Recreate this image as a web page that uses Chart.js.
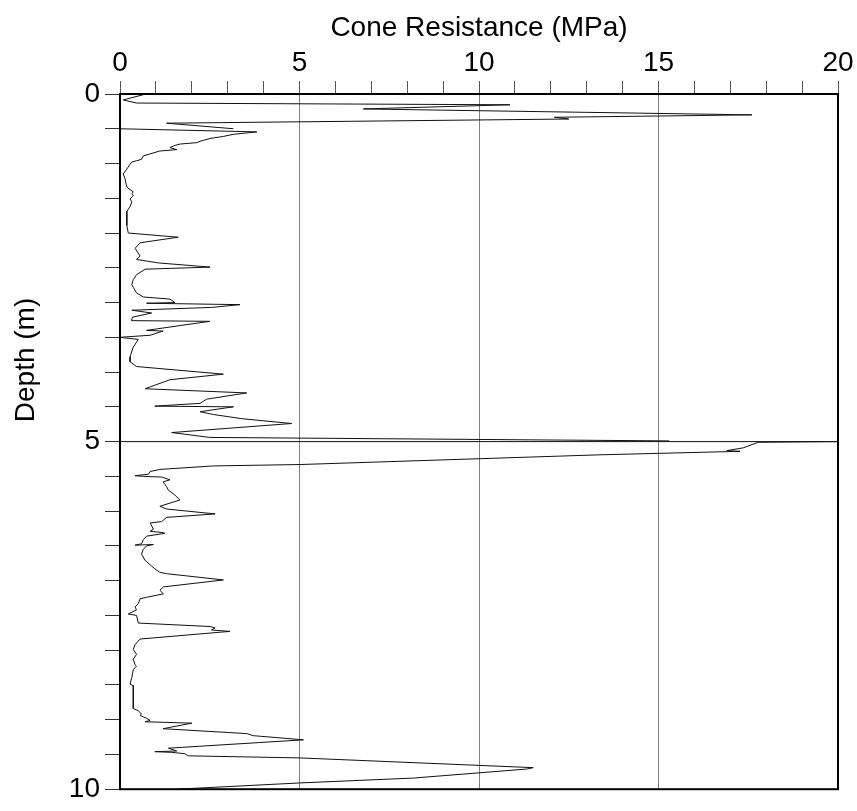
<!DOCTYPE html>
<html><head><meta charset="utf-8">
<script src="https://cdn.jsdelivr.net/npm/chart.js@4.4.1/dist/chart.umd.min.js"></script>
<style>html,body{margin:0;padding:0;background:#fff}canvas{display:block}</style>
</head><body>
<canvas id="c" width="857" height="811"></canvas>
<script>
// ---- data (depth in m, cone resistance in MPa) ----
const run1Depth = [0.01,0.085,0.13,0.155,0.215,0.30,0.335,0.36,0.42,0.50];
const run1Qc    = [0.65,0.09,0.46,10.86,6.78,17.6,12.1,12.5,1.3,3.16];

const run2Depth = [0.50,0.545,0.58,0.61,0.64,0.68,0.70,0.72,0.74,0.77,0.80,0.82,0.89,0.94,0.96,0.98,1.01,1.08,1.15,1.22,
  1.34,1.41,1.43,1.46,1.51,1.55,1.62,1.69,1.79,1.89,2.00,2.06,2.14,2.22,2.33,2.38,2.43,2.49,2.52,2.60,
  2.67,2.74,2.78,2.86,2.92,2.95,3.00,3.01,3.03,3.07,3.11,3.15,3.21,3.26,3.27,3.40,3.41,3.47,3.50,3.53,
  3.64,3.78,3.85,3.92,4.03,4.11,4.24,4.30,4.39,4.45,4.49,4.50,4.57,4.61,4.67,4.74,4.87,4.94,4.99];
const run2Qc    = [0.0,3.81,3.16,2.88,2.51,2.23,2.14,1.67,1.53,1.39,1.58,1.11,0.65,0.60,0.46,0.33,0.28,0.19,0.09,0.14,
  0.19,0.37,0.33,0.37,0.28,0.33,0.28,0.19,0.19,0.19,0.23,1.62,0.56,0.42,0.56,0.46,1.07,2.51,0.70,0.46,
  0.37,0.33,0.37,0.46,0.65,1.39,1.53,0.74,3.34,2.55,0.33,0.88,0.35,0.32,2.50,0.74,1.20,0.84,0.0,0.51,
  0.37,0.28,0.28,0.46,2.88,1.39,0.70,3.53,2.41,2.23,0.97,3.16,2.23,2.60,3.39,4.78,1.44,2.50,15.3];

const run3Depth = [5.00,5.00,5.01,5.09,5.13,5.14,5.19,5.33,5.35,5.40,5.43,5.47,5.49,5.50,5.51,5.55,5.58,5.65,5.70,5.77,
  5.84,5.93,5.97,6.04,6.09,6.15,6.17,6.26,6.29,6.31,6.32,6.36,6.41,6.47,6.49,6.48,6.50,6.55,6.62,6.71,
  6.79,6.83,6.88,6.90,6.99,7.09,7.14,7.19,7.24,7.26,7.33,7.38,7.42,7.48,7.50,7.61,7.66,7.68,7.71,7.73,
  7.84,7.92,7.99,8.06,8.13,8.21,8.23,8.28,8.39,8.49,8.51,8.61,8.70,8.84,8.87,8.92,8.94,8.98,9.01,9.03,
  9.05,9.13,9.20,9.23,9.29,9.41,9.45,9.46,9.47,9.49,9.52,9.55,9.69,9.71,9.84,9.91,10.0];
const run3Qc    = [0.0,20.0,17.78,17.36,16.90,17.27,13.37,5.01,2.60,1.11,0.84,0.79,0.42,0.65,1.16,1.39,1.20,1.30,1.35,1.53,
  1.67,1.11,1.30,2.65,1.30,1.16,0.84,0.93,0.84,1.21,1.25,0.74,0.65,0.60,0.42,0.93,0.74,0.65,0.60,0.70,
  0.88,0.97,1.11,1.30,2.88,1.21,1.11,1.21,0.74,0.56,0.51,0.42,0.46,0.23,0.46,0.51,2.51,2.65,2.55,3.06,
  0.56,0.42,0.37,0.46,0.37,0.42,0.46,0.37,0.33,0.28,0.37,0.37,0.37,0.37,0.51,0.60,0.56,0.74,0.84,0.70,
  2.0,1.2,3.53,3.71,5.11,1.35,1.58,0.97,1.44,1.81,1.90,5.01,11.51,11.33,8.17,5.01,1.58];

const xTickLabels = [0,5,10,15,20];
const yTickLabels = [0,5,10];
const xTitle = 'Cone Resistance (MPa)';
const yTitle = 'Depth (m)';

function pts(d, q){ return d.map((v,i)=>({x:q[i], y:v})); }

const FONT = "'Liberation Sans',Arial,Helvetica,sans-serif";
const lineStyle = {showLine:true, borderColor:'#111', borderWidth:1, pointRadius:0, tension:0, fill:false};

const frame = {
  id:'frame',
  afterDraw(chart){
    const a = chart.chartArea, ctx = chart.ctx;
    ctx.save(); ctx.strokeStyle='#000'; ctx.lineWidth=2;
    ctx.strokeRect(a.left, a.top, a.right-a.left, a.bottom-a.top);
    // y-axis title (placed like the original figure, above the axis centre)
    ctx.fillStyle='#000';
    ctx.font = "28px " + FONT;
    ctx.translate(26, 360);
    ctx.rotate(-Math.PI/2);
    ctx.textAlign='center'; ctx.textBaseline='middle';
    ctx.fillText(yTitle, 0, 0);
    ctx.restore();
  }
};

new Chart(document.getElementById('c'), {
  type:'scatter',
  data:{datasets:[
    Object.assign({label:'Run 1', data:pts(run1Depth,run1Qc)}, lineStyle),
    Object.assign({label:'Run 2', data:pts(run2Depth,run2Qc)}, lineStyle),
    Object.assign({label:'Run 3', data:pts(run3Depth,run3Qc)}, lineStyle)
  ]},
  options:{
    responsive:false, animation:false, devicePixelRatio:1,
    layout:{padding:{left:0,top:0,right:19,bottom:13}},
    plugins:{legend:{display:false}, tooltip:{enabled:false}},
    scales:{
      x:{type:'linear', position:'top', min:0, max:20,
        afterFit(s){ s.height = 94; },
        title:{display:true, text:xTitle, color:'#000', font:{family:FONT, size:28}, padding:{top:11,bottom:0}},
        ticks:{stepSize:1, autoSkip:false, maxRotation:0, color:'#000', padding:1,
          font:{family:FONT, size:28},
          callback:(v)=> xTickLabels.includes(v) ? String(v) : ''},
        grid:{drawOnChartArea:true, tickLength:13, lineWidth:1, tickColor:'#555',
          color:(c)=> (c.tick && [5,10,15].includes(c.tick.value)) ? '#808080' : 'rgba(0,0,0,0)'},
        border:{display:false}
      },
      y:{type:'linear', position:'left', min:0, max:10, reverse:true,
        afterFit(s){ s.width = 120; },
        title:{display:false},
        ticks:{stepSize:0.5, autoSkip:false, color:'#000', padding:5,
          font:{family:FONT, size:28},
          callback:(v)=> yTickLabels.includes(v) ? String(v) : ''},
        grid:{drawOnChartArea:false, tickLength:15, lineWidth:1, tickColor:'#333', color:'rgba(0,0,0,0)'},
        border:{display:false}
      }
    }
  },
  plugins:[frame]
});
</script>
</body></html>
